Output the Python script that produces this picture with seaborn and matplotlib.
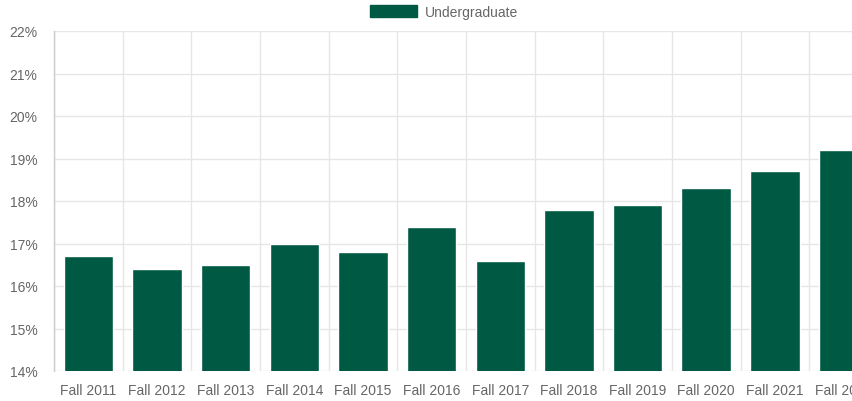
import matplotlib
matplotlib.use("Agg")
import matplotlib.pyplot as plt
import matplotlib.patches as mpatches
import seaborn as sns
import pandas as pd
from matplotlib.ticker import FuncFormatter, MultipleLocator

categories = ["Fall 2011", "Fall 2012", "Fall 2013", "Fall 2014", "Fall 2015", "Fall 2016",
              "Fall 2017", "Fall 2018", "Fall 2019", "Fall 2020", "Fall 2021", "Fall 2022"]
undergraduate = [16.7, 16.4, 16.5, 17.0, 16.8, 17.4, 16.6, 17.8, 17.9, 18.3, 18.7, 19.2]
series_name = "Undergraduate"

BAR = "#005a43"
TEXT = "#666666"
GRID = "#e6e6e6"

sns.set_style("white")
plt.rcParams['font.family'] = ['Liberation Sans', 'DejaVu Sans']

df = pd.DataFrame({"cat": categories, "val": undergraduate})

fig = plt.figure(figsize=(8.52, 4.02), dpi=100)
W, H = 852, 402
left, right, top, bottom = 54, 852, 32, 372
ax = fig.add_axes([left / W, 1 - bottom / H, (right - left) / W, (bottom - top) / H])

sns.barplot(data=df, x="cat", y="val", color=BAR, width=0.72, saturation=1, ax=ax, zorder=3)

ax.set_ylim(14, 22)
ax.yaxis.set_major_locator(MultipleLocator(1))
ax.yaxis.set_major_formatter(FuncFormatter(lambda v, p: f"{v:.0f}%"))

ax.set_xticks(range(len(categories)))
ax.set_xticklabels(categories)
ax.set_xticks([i - 0.5 for i in range(len(categories) + 1)], minor=True)
ax.grid(False)
ax.grid(True, which="minor", axis="x", color=GRID, linewidth=1, zorder=0)
ax.grid(True, which="major", axis="y", color=GRID, linewidth=1, zorder=0)

step = 68.65
ax.set_xlim(-0.5, -0.5 + (right - left) / step)

ax.tick_params(axis="x", which="major", length=0, pad=9, labelsize=10, labelcolor=TEXT)
ax.tick_params(axis="x", which="minor", length=10, color=GRID, width=1)
ax.tick_params(axis="y", length=10, color=GRID, width=1, pad=2, labelsize=10, labelcolor=TEXT)

for s in ["top", "right", "bottom"]:
    ax.spines[s].set_visible(False)
ax.spines["left"].set_color("#cccccc")
ax.spines["left"].set_linewidth(1)
ax.set_xlabel("")
ax.set_ylabel("")

handle = mpatches.Patch(facecolor=BAR, edgecolor=BAR, label=series_name)
fig.legend(handles=[handle], loc="center", bbox_to_anchor=(444 / W, 1 - 13 / H),
           frameon=False, fontsize=10, labelcolor=TEXT, handlelength=3.4,
           handleheight=0.95, handletextpad=0.6, borderpad=0)

fig.savefig("out.png", dpi=100)
